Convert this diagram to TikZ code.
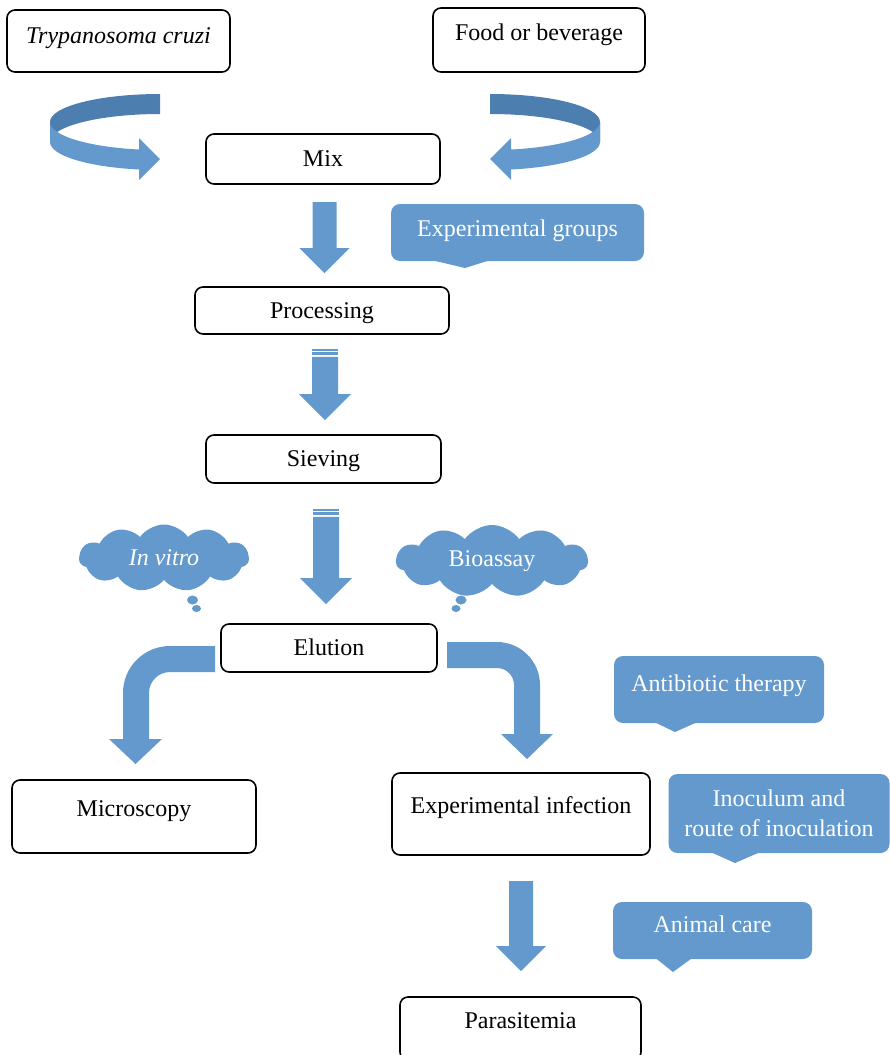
\documentclass[tikz,border=0pt]{standalone}
\usepackage{fontspec}
\setmainfont{Liberation Serif}
\usetikzlibrary{shapes.symbols,calc}
\definecolor{flowblue}{RGB}{99,153,204}
\definecolor{ribbondark}{RGB}{76,127,176}

\begin{document}
\begin{tikzpicture}[x=1pt,y=-1pt,
  every node/.style={font=\fontsize{24}{30}\selectfont},
  oneline/.style={text height=17pt,text depth=#1},
  box/.style={draw=black,line width=1.6pt,rounded corners=8pt,fill=white,inner sep=0pt},
  note/.style={fill=flowblue,rounded corners=9pt,text=white,inner sep=0pt},
  puffcloud/.style={cloud,cloud puffs=11,cloud puff arc=110,cloud ignores aspect,
    fill=flowblue,text=white,inner sep=0pt},
  pics/blockdown/.style={code={
    \fill[flowblue] (-12,0) -- (12,0) -- (12,#1-25) -- (25,#1-25) -- (0,#1)
      -- (-25,#1-25) -- (-12,#1-25) -- cycle;}},
  pics/stripeddown/.style={code={
    \fill[flowblue] (-13,0) rectangle (13,1.6);
    \fill[flowblue] (-13,3) rectangle (13,6.2);
    \fill[flowblue] (-13,7.8) -- (13,7.8) -- (13,#1-26) -- (26,#1-26) -- (0,#1)
      -- (-26,#1-26) -- (-13,#1-26) -- cycle;}}
]
\useasboundingbox (0,0) rectangle (889,1055);

% ---- process boxes ----
\node[box,oneline=13pt,minimum width=223pt,minimum height=62pt] (try) at (118.5,41) {\itshape Trypanosoma cruzi};
\node[box,oneline=17pt,minimum width=212pt,minimum height=64pt] (food) at (539,40) {Food or beverage};
\node[box,oneline=3pt,minimum width=234pt,minimum height=50pt] (mix) at (323,159) {Mix};
\node[box,oneline=1pt,minimum width=254pt,minimum height=47pt] (proc) at (322,310.5) {Processing};
\node[box,oneline=3pt,minimum width=235pt,minimum height=48pt] (siev) at (323.5,459) {Sieving};
\node[box,oneline=3pt,minimum width=216pt,minimum height=48pt] (elu) at (329,648) {Elution};
\node[box,oneline=18pt,minimum width=244pt,minimum height=73pt] (micro) at (134,816.5) {Microscopy};
\node[box,oneline=19pt,minimum width=258pt,minimum height=82pt] (expinf) at (521,814) {Experimental infection};
\node[box,oneline=18pt,minimum width=241pt,minimum height=63pt] (para) at (520.5,1028.5) {Parasitemia};

% ---- curved ribbon arrows into Mix ----
\fill[ribbondark] (160,94) .. controls (99.2,94) and (50,106.5) .. (50,122)
  -- (50,142) .. controls (50,126.5) and (99.2,114) .. (160,114) -- cycle;
\fill[flowblue] (50,122) .. controls (50,135.4) and (87.3,146.9) .. (139,149.5)
  -- (139,138) -- (160,159) -- (139,180) -- (139,169.5)
  .. controls (87.3,166.9) and (50,155.4) .. (50,142) -- cycle;
\fill[ribbondark] (490,94) .. controls (550.8,94) and (600,106.5) .. (600,122)
  -- (600,142) .. controls (600,126.5) and (550.8,114) .. (490,114) -- cycle;
\fill[flowblue] (600,122) .. controls (600,135.4) and (562.7,146.9) .. (511,149.5)
  -- (511,138) -- (490,159) -- (511,180) -- (511,169.5)
  .. controls (562.7,166.9) and (600,155.4) .. (600,142) -- cycle;

% ---- straight block arrows ----
\pic at (324.5,202) {blockdown=71};
\pic at (325,349) {stripeddown=71};
\pic at (326,509) {stripeddown=95};
\pic at (521,881) {blockdown=90};

% ---- bent block arrows out of Elution ----
\fill[flowblue] (215,646) -- (170,646) .. controls (144,646) and (123,667) .. (123,693)
  -- (123,739) -- (109,739) -- (135.5,764) -- (162,739) -- (149,739) -- (149,693)
  .. controls (149,681.4) and (158.4,672) .. (170,672) -- (215,672) -- cycle;
\fill[flowblue] (447,642) -- (497,642) .. controls (520.7,642) and (540,661.3) .. (540,685)
  -- (540,734) -- (553,734) -- (527,759) -- (501,734) -- (514,734) -- (514,685)
  .. controls (514,675.6) and (506.4,668) .. (497,668) -- (447,668) -- cycle;

% ---- thought clouds with their trailing bubbles ----
\node[puffcloud,minimum width=170pt,minimum height=67pt] (invitro) at (164,558) {\itshape In vitro};
\fill[flowblue] (192.5,600) ellipse (5.5 and 4.5);
\fill[flowblue] (196.5,608.5) ellipse (4.5 and 3.5);
\node[puffcloud,minimum width=192pt,minimum height=72pt] (bioassay) at (492,561) {Bioassay};
\fill[flowblue] (461,600) ellipse (5.5 and 4.5);
\fill[flowblue] (456,608.5) ellipse (4.5 and 3.5);

% ---- note callouts ----
\node[note,oneline=10pt,minimum width=253pt,minimum height=57pt] (groups) at (517.5,232.5) {Experimental groups};
\fill[flowblue] (423,258) -- (465,268) -- (497,258) -- cycle;
\node[note,oneline=14pt,minimum width=210pt,minimum height=67pt] (antib) at (719,689.5) {Antibiotic therapy};
\fill[flowblue] (650,720) -- (675,732) -- (702,720) -- cycle;
\node[note,align=center,minimum width=221pt,minimum height=79pt] (inoc) at (779,813.5) {Inoculum and\\route of inoculation};
\fill[flowblue] (706,850) -- (735,863) -- (765,850) -- cycle;
\node[note,oneline=14pt,minimum width=199pt,minimum height=57pt] (care) at (712.5,930.5) {Animal care};
\fill[flowblue] (653,956) -- (673,972) -- (695,956) -- cycle;
\end{tikzpicture}
\end{document}
